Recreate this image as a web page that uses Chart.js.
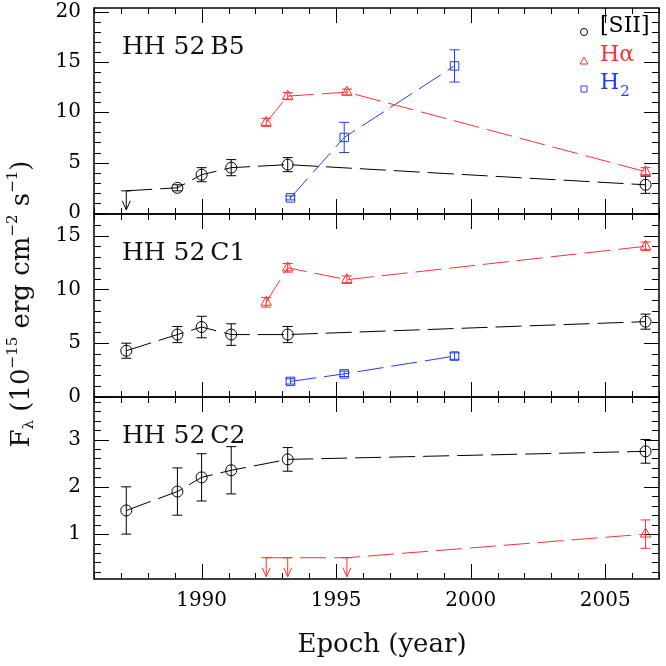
<!DOCTYPE html>
<html>
<head>
<meta charset="utf-8">
<script src="https://cdn.jsdelivr.net/npm/chart.js@4.4.1/dist/chart.umd.min.js"></script>
<style>
  html, body { margin: 0; padding: 0; background: #fff; }
</style>
</head>
<body>
<canvas id="chart" width="666" height="666"></canvas>
<script>
// epochs of each line
const siiYears = [1987.2, 1989.1, 1990.0, 1991.1, 1993.2, 2006.5];
const haYears  = [1992.4, 1993.2, 1995.4, 2006.5];
const h2Years  = [1993.3, 1995.3, 1999.4];

// HH 52 B5
const b5Sii    = [2.2, 2.5, 3.8, 4.5, 4.8, 2.8];
const b5SiiErr = [0, 0.3, 0.7, 0.8, 0.7, 0.85];
const b5SiiLim = [true, false, false, false, false, false];
const b5Ha     = [9.0, 11.6, 12.0, 4.1];
const b5HaErr  = [0.4, 0.35, 0.3, 0.4];
const b5H2     = [1.5, 7.5, 14.6];
const b5H2Err  = [0.2, 1.5, 1.6];

// HH 52 C1
const c1Sii    = [4.3, 5.8, 6.5, 5.8, 5.8, 7.0];
const c1SiiErr = [0.7, 0.75, 1.0, 1.0, 0.75, 0.7];
const c1Ha     = [8.8, 12.0, 10.9, 14.0];
const c1HaErr  = [0.45, 0.4, 0.35, 0.4];
const c1H2     = [1.45, 2.15, 3.8];
const c1H2Err  = [0.25, 0.25, 0.3];

// HH 52 C2
const c2Sii    = [1.5, 1.9, 2.2, 2.35, 2.58, 2.75];
const c2SiiErr = [0.5, 0.5, 0.5, 0.5, 0.25, 0.25];
const c2Ha     = [0.5, 0.5, 0.5, 1.0];
const c2HaErr  = [0, 0, 0, 0.3];
const c2HaLim  = [true, true, true, false];

const panelNames = ['HH 52\u2009B5', 'HH 52\u2009C1', 'HH 52\u2009C2'];
const panelTicks = [[0, 5, 10, 15, 20], [0, 5, 10, 15], [1, 2, 3]];
const yearTicks  = [1990, 1995, 2000, 2005];

const BLACK = '#000000', RED = '#ff3030', BLUE = '#1f3cff';
const FONT = '"DejaVu Serif", serif';
const axisIds = ['yB5', 'yC1', 'yC2'];
const minorStep = [1, 1, 0.2];
const majorStep = [5, 5, 1];

const pts = (xs, ys) => xs.map((x, i) => ({ x, y: ys[i] }));

function makeSet(label, years, vals, errs, lims, color, style, radius, axis) {
  return {
    label,
    data: pts(years, vals),
    errs,
    lims: lims || [],
    yAxisID: axis,
    borderColor: color,
    backgroundColor: 'rgba(0,0,0,0)',
    borderWidth: 1,
    borderDash: [26, 8],
    pointStyle: style,
    pointRadius: years.map((_, i) => (lims && lims[i]) ? 0 : radius),
    pointBorderColor: color,
    pointBorderWidth: 1,
    pointBackgroundColor: 'rgba(0,0,0,0)',
    tension: 0
  };
}

const datasets = [
  makeSet('[SII]', siiYears, b5Sii, b5SiiErr, b5SiiLim, BLACK, 'circle', 5.5, 'yB5'),
  makeSet('Hα', haYears, b5Ha, b5HaErr, null, RED, 'triangle', 6, 'yB5'),
  makeSet('H2', h2Years, b5H2, b5H2Err, null, BLUE, 'rect', 6, 'yB5'),
  makeSet('[SII]', siiYears, c1Sii, c1SiiErr, null, BLACK, 'circle', 5.5, 'yC1'),
  makeSet('Hα', haYears, c1Ha, c1HaErr, null, RED, 'triangle', 6, 'yC1'),
  makeSet('H2', h2Years, c1H2, c1H2Err, null, BLUE, 'rect', 6, 'yC1'),
  makeSet('[SII]', siiYears, c2Sii, c2SiiErr, null, BLACK, 'circle', 5.5, 'yC2'),
  makeSet('Hα', haYears, c2Ha, c2HaErr, c2HaLim, RED, 'triangle', 6, 'yC2')
];

function yScale(min, max, ticks, weight, order) {
  return {
    type: 'linear',
    position: 'left',
    stack: 'panels',
    stackWeight: weight,
    weight: order,
    min, max,
    afterBuildTicks: s => { s.ticks = ticks.map(v => ({ value: v })); },
    afterFit: s => { s.width = 94; s.paddingTop = 0; s.paddingBottom = 0; },
    grid: { display: false, drawTicks: false },
    border: { display: false },
    ticks: { color: '#000', font: { family: FONT, size: 20 }, padding: 13, autoSkip: false }
  };
}

const frame = {
  id: 'frame',
  beforeDatasetsDraw(chart) {
    const ctx = chart.ctx, xs = chart.scales.x;
    const L = chart.chartArea.left, R = chart.chartArea.right;
    ctx.save();
    ctx.strokeStyle = '#000';
    axisIds.forEach((id, p) => {
      const ys = chart.scales[id];
      const T = ys.top, B = ys.bottom;
      ctx.lineWidth = 1;
      ctx.beginPath();
      for (let yr = 1986; yr <= 2007; yr++) {
        const px = Math.round(xs.getPixelForValue(yr)) + 0.5;
        const len = yr % 5 === 0 ? 15 : 6;
        ctx.moveTo(px, T); ctx.lineTo(px, T + len);
        ctx.moveTo(px, B); ctx.lineTo(px, B - len);
      }
      const step = minorStep[p];
      for (let k = Math.ceil(ys.min / step); k * step <= ys.max + 1e-9; k++) {
        const v = k * step;
        const py = Math.round(ys.getPixelForValue(v)) + 0.5;
        const major = Math.abs(v / majorStep[p] - Math.round(v / majorStep[p])) < 1e-6;
        const len = major ? 15 : 7;
        ctx.moveTo(L, py); ctx.lineTo(L + len, py);
        ctx.moveTo(R, py); ctx.lineTo(R - len, py);
      }
      ctx.stroke();
      ctx.lineWidth = 1.5;
      ctx.strokeRect(L, T, R - L, B - T);

      ctx.fillStyle = '#111';
      ctx.font = '25px ' + FONT;
      ctx.textBaseline = 'alphabetic';
      ctx.textAlign = 'left';
      ctx.fillText(panelNames[p], 122, T + 46);
    });
    ctx.restore();
  },
  afterDatasetsDraw(chart) {
    const ctx = chart.ctx, xs = chart.scales.x;
    ctx.save();
    ctx.lineWidth = 1;
    ctx.setLineDash([]);
    chart.data.datasets.forEach(ds => {
      const ys = chart.scales[ds.yAxisID];
      ctx.strokeStyle = ds.borderColor;
      ds.data.forEach((pt, j) => {
        const px = xs.getPixelForValue(pt.x), py = ys.getPixelForValue(pt.y);
        ctx.beginPath();
        if (ds.lims[j]) {
          ctx.moveTo(px - 5, py); ctx.lineTo(px + 5, py);
          ctx.moveTo(px, py); ctx.lineTo(px, py + 19);
          ctx.moveTo(px - 4, py + 10); ctx.lineTo(px, py + 19); ctx.lineTo(px + 4, py + 10);
        } else if (ds.errs[j]) {
          const t = ys.getPixelForValue(pt.y + ds.errs[j]);
          const b = ys.getPixelForValue(pt.y - ds.errs[j]);
          ctx.moveTo(px, t); ctx.lineTo(px, b);
          ctx.moveTo(px - 5, t); ctx.lineTo(px + 5, t);
          ctx.moveTo(px - 5, b); ctx.lineTo(px + 5, b);
        }
        ctx.stroke();
      });
    });
    ctx.restore();
  },
  afterDraw(chart) {
    const ctx = chart.ctx;
    ctx.save();
    // legend
    const lx = 584;
    const rows = [
      { y: 32, color: BLACK, text: '[SII]' },
      { y: 61, color: RED, text: 'Hα' },
      { y: 89, color: BLUE, text: 'H' }
    ];
    ctx.lineWidth = 1;
    ctx.textBaseline = 'middle';
    ctx.textAlign = 'left';
    rows.forEach((r, i) => {
      ctx.strokeStyle = r.color;
      ctx.fillStyle = r.color;
      ctx.beginPath();
      if (i === 0) ctx.arc(lx, r.y, 3.5, 0, Math.PI * 2);
      if (i === 1) { ctx.moveTo(lx, r.y - 4); ctx.lineTo(lx + 4, r.y + 3); ctx.lineTo(lx - 4, r.y + 3); ctx.closePath(); }
      if (i === 2) ctx.rect(lx - 3, r.y - 3, 6, 6);
      ctx.stroke();
      ctx.font = '22px ' + FONT;
      ctx.fillText(r.text, 600, r.y - 6);
      if (i === 2) {
        const w = ctx.measureText(r.text).width;
        ctx.font = '15px ' + FONT;
        ctx.fillText('2', 600 + w + 1, r.y + 3);
      }
    });

    // x title
    ctx.fillStyle = '#111';
    ctx.font = '26px ' + FONT;
    ctx.textAlign = 'center';
    ctx.textBaseline = 'middle';
    ctx.fillText('Epoch (year)', 382, 645);

    // y title, rotated, built from pieces
    const parts = [
      ['F', 26, 0], ['λ', 15, 7], [' (10', 26, 0], ['−15', 15, -9], [' erg cm', 26, 0],
      ['−2', 15, -9], [' s', 26, 0], ['−1', 15, -9], [')', 26, 0]
    ];
    let total = 0;
    parts.forEach(p => { ctx.font = p[1] + 'px ' + FONT; total += ctx.measureText(p[0]).width; });
    ctx.translate(22, 304);
    ctx.rotate(-Math.PI / 2);
    ctx.textAlign = 'left';
    ctx.textBaseline = 'middle';
    let x = -total / 2;
    parts.forEach(p => {
      ctx.font = p[1] + 'px ' + FONT;
      ctx.fillText(p[0], x, p[2]);
      x += ctx.measureText(p[0]).width;
    });
    ctx.restore();
  }
};

new Chart(document.getElementById('chart'), {
  type: 'line',
  data: { datasets },
  plugins: [frame],
  options: {
    responsive: false,
    animation: false,
    layout: { padding: { top: 8, right: 1, left: 0, bottom: 0 } },
    plugins: { legend: { display: false }, tooltip: { enabled: false } },
    scales: {
      x: {
        type: 'linear',
        position: 'bottom',
        min: 1986, max: 2007,
        afterBuildTicks: s => { s.ticks = yearTicks.map(v => ({ value: v })); },
        afterFit: s => { s.height = 87; s.paddingLeft = 0; s.paddingRight = 0; },
        grid: { display: false, drawTicks: false },
        border: { display: false },
        ticks: { color: '#000', font: { family: FONT, size: 20 }, padding: 10, autoSkip: false, maxRotation: 0,
                 callback: v => String(v) }
      },
      yC2: yScale(0.05, 3.9, panelTicks[2], 182, 1),
      yC1: yScale(0, 17, panelTicks[1], 183, 2),
      yB5: yScale(-0.1, 20.35, panelTicks[0], 206, 3)
    }
  }
});
</script>
</body>
</html>
